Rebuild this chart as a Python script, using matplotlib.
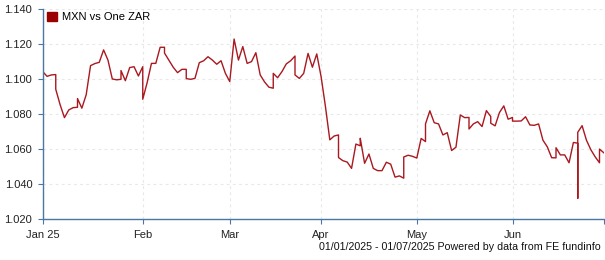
import numpy as np
import pandas as pd
import matplotlib.pyplot as plt
from matplotlib.patches import Patch

# cotizaciones diarias (dias habiles) 01/01/2025 - 01/07/2025
dias_habiles = pd.bdate_range('2025-01-01', '2025-07-01')
valores_habiles = [
    1.1044, 1.1017, 1.1025, 1.0943, 1.0855, 1.0781, 1.0825, 1.0838, 1.0890, 1.0835,
    1.0912, 1.1078, 1.1090, 1.1097, 1.1168, 1.1110, 1.1002, 1.0997, 1.1050, 1.0992,
    1.1067, 1.1072, 1.1019, 1.0886, 1.0980, 1.1091, 1.1091, 1.1183, 1.1150, 1.1110,
    1.1069, 1.1038, 1.1057, 1.1004, 1.1000, 1.1005, 1.1095, 1.1106, 1.1129, 1.1110,
    1.1086, 1.1106, 1.1034, 1.0987, 1.1230, 1.1110, 1.1187, 1.1091, 1.1101, 1.1152,
    1.1025, 1.0985, 1.0955, 1.1034, 1.1009, 1.1044, 1.1088, 1.1106, 1.1025, 1.1005,
    1.1034, 1.1148, 1.1069, 1.1145, 1.1015, 1.0844, 1.0654, 1.0676, 1.0553, 1.0535,
    1.0527, 1.0491, 1.0630, 1.0663, 1.0520, 1.0573, 1.0491, 1.0478, 1.0478, 1.0526,
    1.0515, 1.0441, 1.0448, 1.0556, 1.0566, 1.0560, 1.0550, 1.0662, 1.0745, 1.0820,
    1.0752, 1.0745, 1.0682, 1.0695, 1.0593, 1.0612, 1.0796, 1.0781, 1.0716, 1.0745,
    1.0758, 1.0730, 1.0821, 1.0749, 1.0734, 1.0810, 1.0848, 1.0772, 1.0761, 1.0761,
    1.0762, 1.0786, 1.0739, 1.0737, 1.0745, 1.0652, 1.0614, 1.0552, 1.0609, 1.0568,
    1.0568, 1.0523, 1.0639, 1.0697, 1.0735, 1.0652, 1.0598, 1.0557, 1.0601, 1.0580,
]

# cotizaciones de fin de semana (se dibujan sobre el lunes siguiente)
fechas_finde = [
    '2025-01-05', '2025-01-12', '2025-01-26', '2025-02-02', '2025-02-09', '2025-02-16',
    '2025-03-16', '2025-03-23', '2025-04-06', '2025-04-13', '2025-04-27', '2025-05-04',
    '2025-05-18', '2025-05-25', '2025-06-01', '2025-06-15', '2025-06-21', '2025-06-22',
    '2025-06-29',
]
valores_finde = [
    1.1027, 1.0840, 1.1000, 1.1072, 1.1183, 1.1057,
    1.0949, 1.1133, 1.0682, 1.0620, 1.0435, 1.0644,
    1.0782, 1.0787, 1.0782, 1.0551, 1.0635, 1.0320,
    1.0523,
]

meses = ['2025-01-01', '2025-02-01', '2025-03-01', '2025-04-01', '2025-05-01', '2025-06-01', '2025-07-01']
etiquetas_meses = ['Jan 25', 'Feb', 'Mar', 'Apr', 'May', 'Jun', '']
y_ticks = [1.020, 1.040, 1.060, 1.080, 1.100, 1.120, 1.140]

# serie completa ordenada por fecha
serie = pd.DataFrame({
    'fecha': list(dias_habiles) + list(pd.to_datetime(fechas_finde)),
    'valor': valores_habiles + valores_finde,
}).sort_values('fecha', kind='stable')
fechas_np = serie['fecha'].values.astype('datetime64[D]')
x = np.busday_count(np.datetime64('2025-01-01'), fechas_np)
x_meses = np.busday_count(np.datetime64('2025-01-01'), np.array(meses, dtype='datetime64[D]'))

plt.rcParams['font.family'] = ['Liberation Sans', 'DejaVu Sans']
color_linea = '#aa1820'
color_eje = '#4a77a8'

fig = plt.figure(figsize=(6.05, 2.6), dpi=100)
ax = fig.add_axes([42.7 / 605, 1 - 219.3 / 260, (603.85 - 42.7) / 605, (219.3 - 9.3) / 260])

ax.plot(x, serie['valor'].values, color=color_linea, lw=1.0)

ax.set_xlim(0, 129)
ax.set_ylim(1.020, 1.140)
ax.set_xticks(x_meses)
ax.set_xticklabels(etiquetas_meses)
ax.set_yticks(y_ticks)
ax.set_yticklabels([f'{v:.3f}' for v in y_ticks])

ax.grid(True, color='#e8e8e8', ls=(0, (2.5, 3)), lw=0.8)
ax.set_axisbelow(True)
for lado in ['top', 'right']:
    ax.spines[lado].set_visible(False)
for lado in ['left', 'bottom']:
    ax.spines[lado].set_color(color_eje)
    ax.spines[lado].set_linewidth(1.0)
ax.tick_params(axis='both', colors='#222222', labelsize=8, length=3.5, width=0.8)
ax.tick_params(axis='x', pad=4, color=color_eje)
ax.tick_params(axis='y', pad=4, color=color_eje)

ax.legend(handles=[Patch(facecolor='#9b0000', edgecolor='#9b0000', label='MXN vs One ZAR')],
          loc='upper left', frameon=False, fontsize=8, handlelength=0.9, handleheight=0.9,
          handletextpad=0.4, borderaxespad=0.0, bbox_to_anchor=(0.0, 1.01))

fig.text(601 / 605, 1 - 247 / 260, '01/01/2025 - 01/07/2025 Powered by data from FE fundinfo',
         ha='right', va='center', fontsize=7.7, color='#111111')

fig.savefig('out.png', dpi=100)
